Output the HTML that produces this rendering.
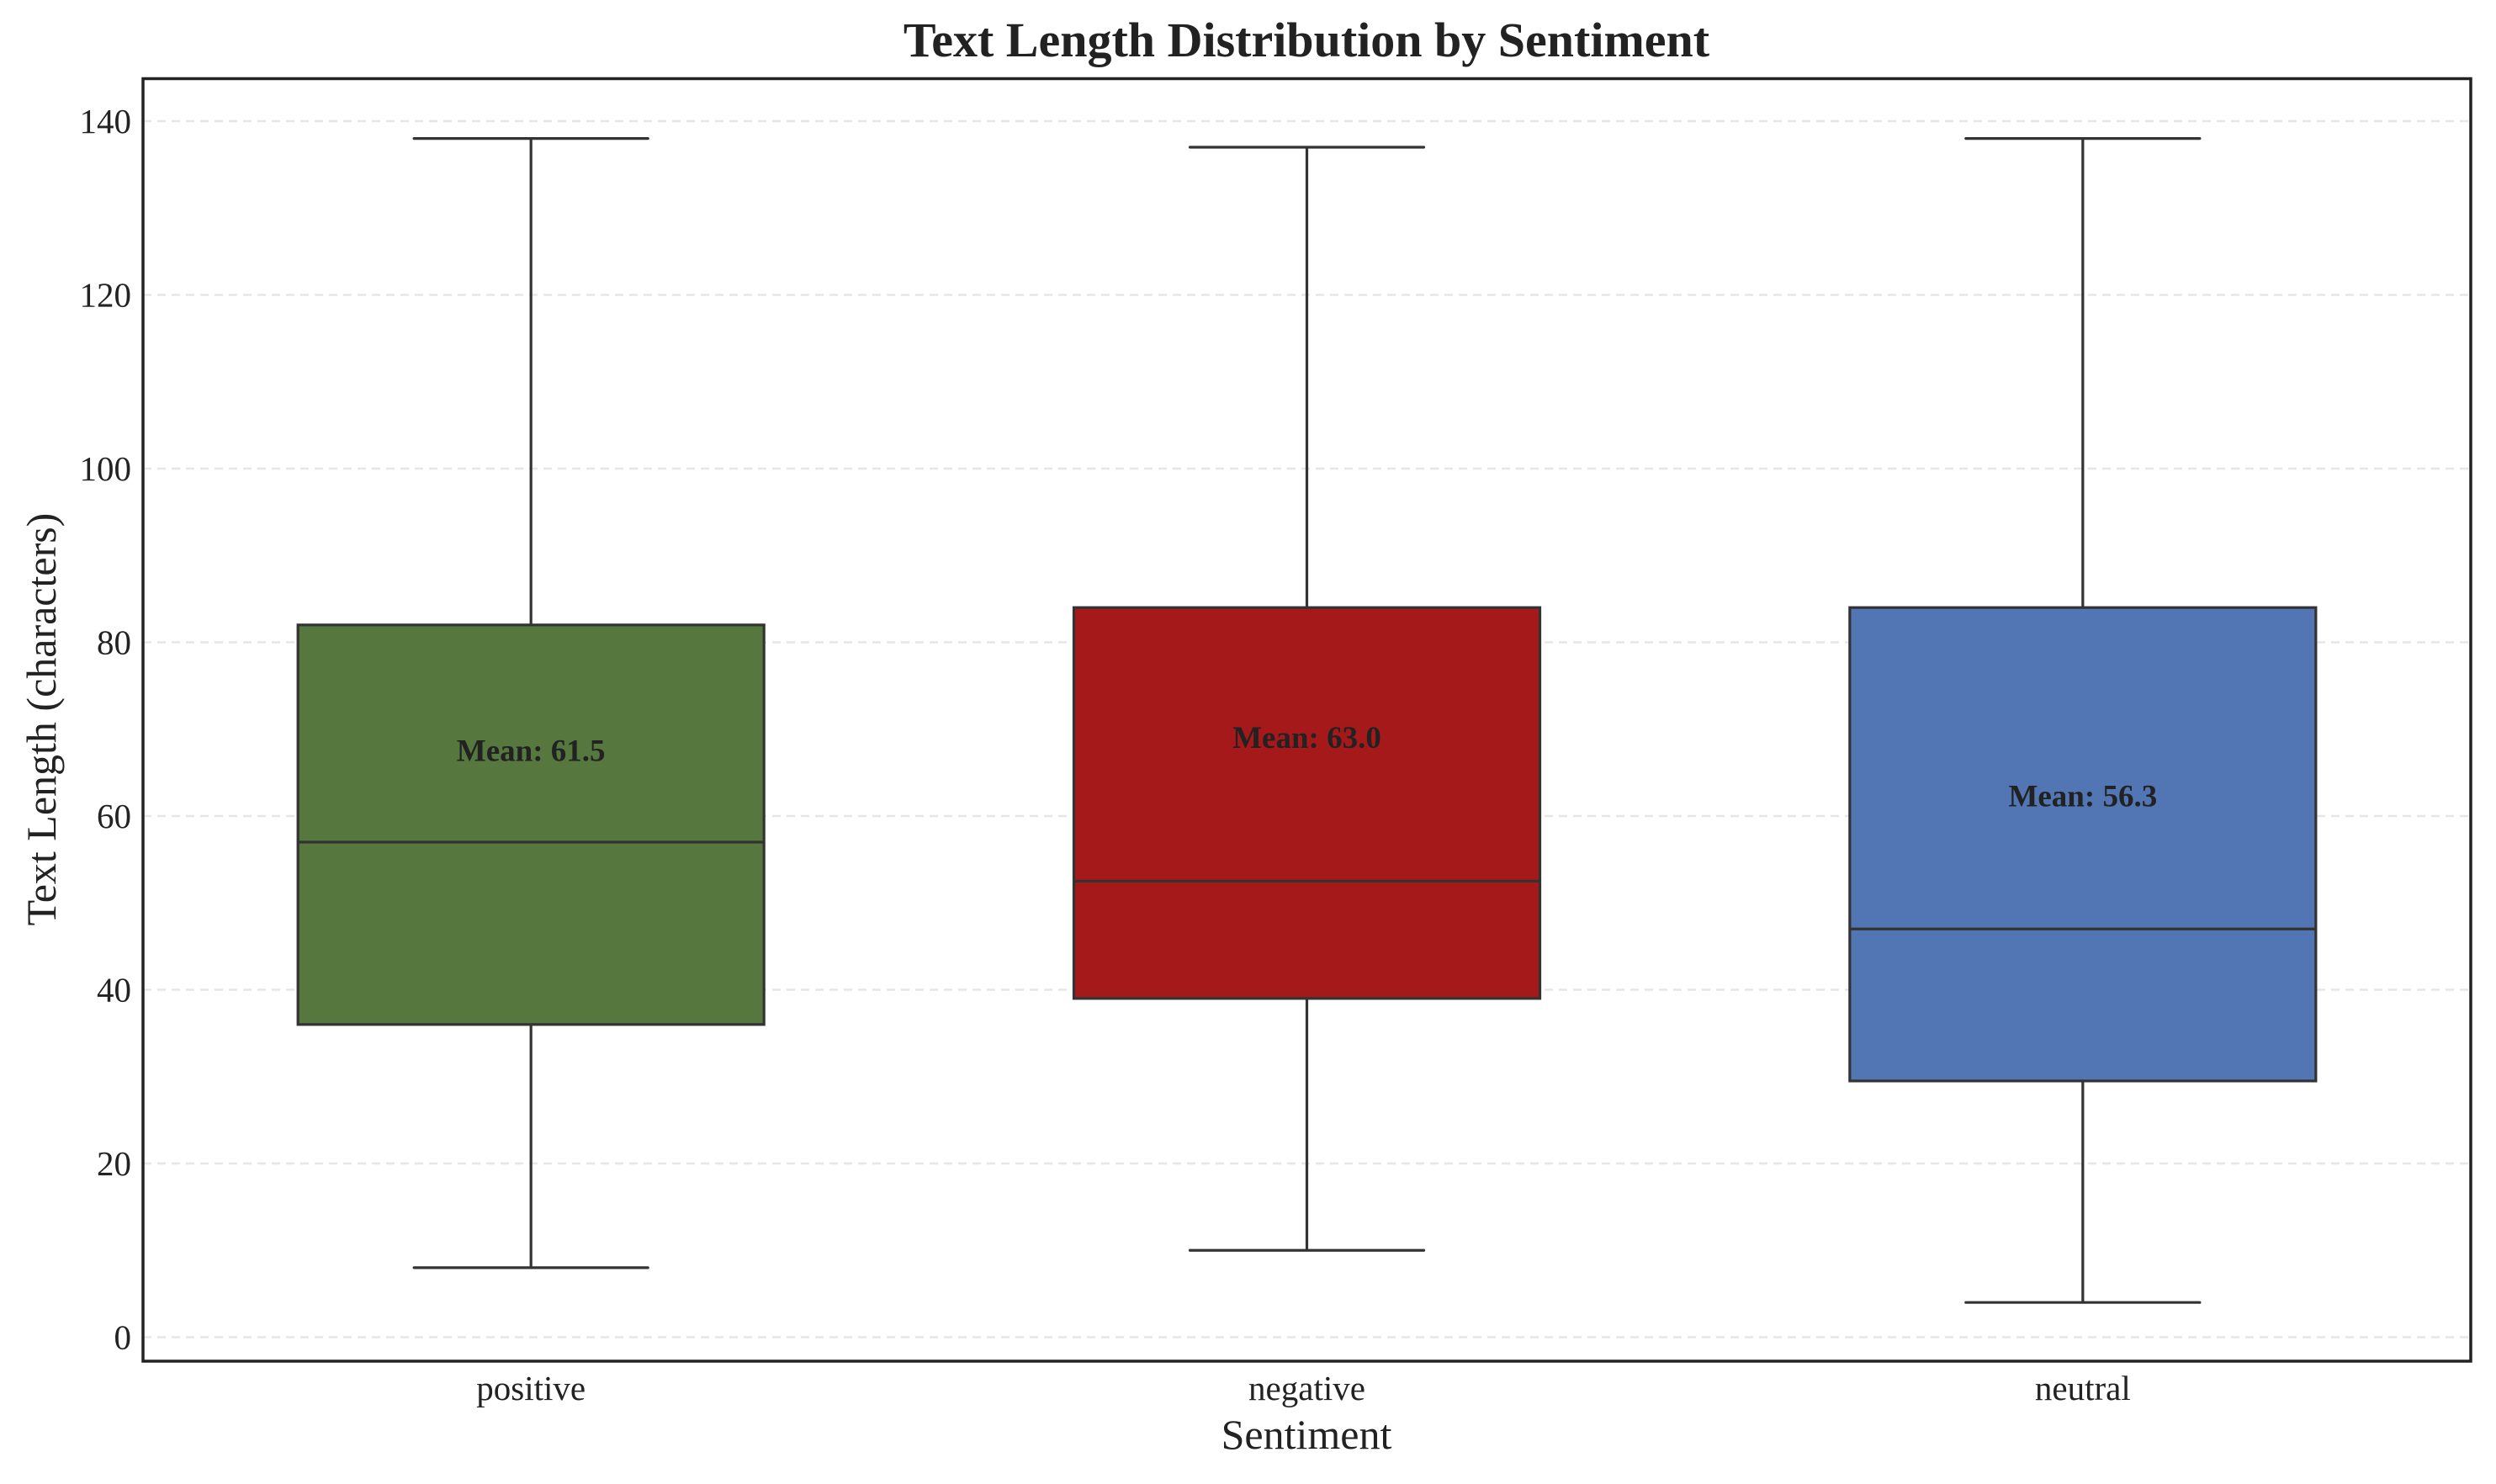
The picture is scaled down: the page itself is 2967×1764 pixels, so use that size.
<!DOCTYPE html>
<html><head><meta charset="utf-8"><style>
html,body{margin:0;padding:0;background:#fff}
svg{display:block}
text{font-family:"Liberation Serif",serif;fill:#222}
</style></head><body>
<svg id="chart" width="2967" height="1764" viewBox="0 0 2967 1764">
<rect width="2967" height="1764" fill="#fff"/>
<text x="1553" y="67" text-anchor="middle" font-size="58" font-weight="bold">Text Length Distribution by Sentiment</text>
<g id="grid"></g>
<g id="yticks"></g>
<g id="boxes"></g>
<g id="xticks"></g>
<rect x="170" y="93.5" width="2767" height="1524.5" fill="none" stroke="#222" stroke-width="3.5"/>
<text x="1553" y="1722" text-anchor="middle" font-size="50">Sentiment</text>
<text transform="translate(66,855) rotate(-90)" text-anchor="middle" font-size="50">Text Length (characters)</text>
</svg>
<script>
const categories = ["positive","negative","neutral"];
const whiskerLow = [8,10,4];
const q1 = [36,39,29.5];
const medians = [57,52.5,47];
const q3 = [82,84,84];
const whiskerHigh = [138,137,138];
const means = [61.5,63.0,56.3];
const colors = ["#56783e","#a6191b","#5275b3"];
const yTicks = [0,20,40,60,80,100,120,140];

const NS="http://www.w3.org/2000/svg";
const L=170,R=2937;
function yScale(v){return 1589.5-(v/20)*206.5;}
function xScale(i){const w=(R-L)/categories.length;return L+w*(i+0.5);}
function mk(tag,attrs,parent){const e=document.createElementNS(NS,tag);for(const k in attrs)e.setAttribute(k,attrs[k]);parent.appendChild(e);return e;}
const grid=document.getElementById('grid'),yt=document.getElementById('yticks'),bx=document.getElementById('boxes'),xt=document.getElementById('xticks');
yTicks.forEach(t=>{
  const y=yScale(t);
  const g=mk('line',{x1:L,x2:R,y1:y,y2:y,stroke:'#e6e6e6','stroke-width':2.5,'stroke-dasharray':'10,7'},grid);
  
  
  const tx=mk('text',{x:L-14,y:y+14,'text-anchor':'end','font-size':41},yt);
  tx.textContent=t;
  
  
});
const half=277,cap=139;
categories.forEach((c,i)=>{
  const cx=xScale(i);
  const g=mk('g',{},bx);
  
  
  const st={stroke:'#333','stroke-width':3.2};
  const w1=mk('line',Object.assign({x1:cx,x2:cx,y1:yScale(q3[i]),y2:yScale(whiskerHigh[i])},st),g);
  
  
  const w2=mk('line',Object.assign({x1:cx,x2:cx,y1:yScale(q1[i]),y2:yScale(whiskerLow[i])},st),g);
  
  
  const c1=mk('line',Object.assign({x1:cx-cap,x2:cx+cap,y1:yScale(whiskerHigh[i]),y2:yScale(whiskerHigh[i]),'stroke-linecap':'round'},st),g);
  
  
  const c2=mk('line',Object.assign({x1:cx-cap,x2:cx+cap,y1:yScale(whiskerLow[i]),y2:yScale(whiskerLow[i]),'stroke-linecap':'round'},st),g);
  
  
  const r=mk('rect',Object.assign({x:cx-half,y:yScale(q3[i]),width:half*2,height:yScale(q1[i])-yScale(q3[i]),fill:colors[i]},st),g);
  
  
  const m=mk('line',Object.assign({x1:cx-half,x2:cx+half,y1:yScale(medians[i]),y2:yScale(medians[i])},st),g);
  
  
  const lt=mk('text',{x:cx,y:yScale(means[i]+6)+12,'text-anchor':'middle','font-size':37,'font-weight':'bold'},g);
  lt.textContent='Mean: '+means[i].toFixed(1);
  
  
  const xl=mk('text',{x:cx,y:1664,'text-anchor':'middle','font-size':41},xt);
  xl.textContent=c;
  
  
});
</script>
</body></html>
